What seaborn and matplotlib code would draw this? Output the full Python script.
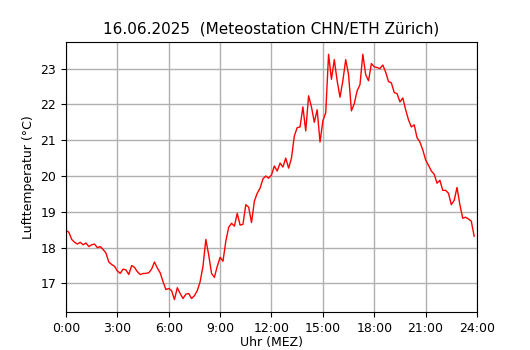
import matplotlib
matplotlib.use("Agg")
import matplotlib.pyplot as plt
import seaborn as sns
import numpy as np
import pandas as pd

title = "16.06.2025  (Meteostation CHN/ETH Zürich)"
x_label = "Uhr (MEZ)"
y_label = "Lufttemperatur (°C)"
x_ticks = [0, 3, 6, 9, 12, 15, 18, 21, 24]
x_tick_labels = ["0:00", "3:00", "6:00", "9:00", "12:00", "15:00", "18:00", "21:00", "24:00"]

# 10-minute temperature readings, 0:00 .. 23:50
temps = [
    18.48, 18.43, 18.23, 18.15, 18.10, 18.15, 18.08, 18.13, 18.03, 18.08, 18.10, 18.00,
    18.03, 17.95, 17.85, 17.60, 17.53, 17.48, 17.35, 17.28, 17.40, 17.38, 17.25, 17.50,
    17.45, 17.33, 17.25, 17.28, 17.28, 17.30, 17.40, 17.60, 17.43, 17.30, 17.05, 16.83,
    16.86, 16.80, 16.55, 16.88, 16.72, 16.58, 16.70, 16.72, 16.58, 16.66, 16.80, 17.05,
    17.48, 18.23, 17.80, 17.28, 17.17, 17.48, 17.73, 17.62, 18.18, 18.57, 18.68, 18.60,
    18.96, 18.63, 18.65, 19.20, 19.13, 18.70, 19.30, 19.52, 19.66, 19.92, 20.00, 19.94,
    20.03, 20.28, 20.14, 20.36, 20.25, 20.50, 20.22, 20.50, 21.12, 21.35, 21.37, 21.93,
    21.26, 22.24, 21.93, 21.50, 21.85, 20.95, 21.54, 21.77, 23.40, 22.70, 23.25, 22.66,
    22.20, 22.66, 23.25, 22.83, 21.82, 22.02, 22.38, 22.55, 23.40, 22.83, 22.66, 23.14,
    23.05, 23.03, 23.00, 23.10, 22.90, 22.64, 22.60, 22.33, 22.30, 22.07, 22.18, 21.85,
    21.57, 21.37, 21.43, 21.07, 20.95, 20.73, 20.45, 20.30, 20.14, 20.05, 19.80, 19.88,
    19.60, 19.60, 19.52, 19.20, 19.32, 19.68, 19.20, 18.82, 18.85, 18.80, 18.74, 18.32,
]
hours = [i / 6 for i in range(len(temps))]

df = pd.DataFrame({"hour": hours, "temp": temps})

fig = plt.figure(figsize=(5.3, 3.5), dpi=100)
ax = fig.add_axes([0.1245, 0.109, 0.7755, 0.771])
sns.lineplot(data=df, x="hour", y="temp", color="red", linewidth=1, ax=ax)
ax.set_xlim(0, 24)
ax.set_xticks(x_ticks)
ax.set_xticklabels(x_tick_labels)
ax.grid(True, color="#b0b0b0", linewidth=1)
ax.set_axisbelow(True)
ax.set_title(title, fontsize=11)
ax.set_xlabel(x_label, fontsize=9, labelpad=1)
ax.set_ylabel(y_label, fontsize=9)
ax.tick_params(labelsize=9)
fig.savefig("out.png", dpi=100)
